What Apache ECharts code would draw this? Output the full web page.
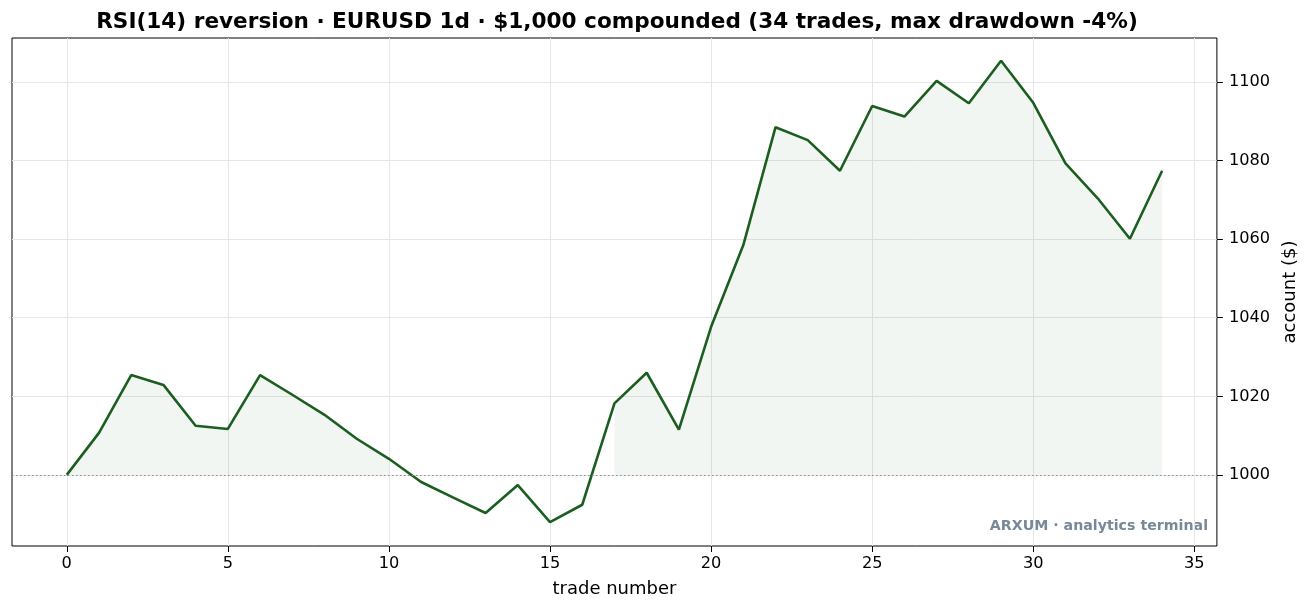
<!DOCTYPE html>
<html>
<head>
<meta charset="utf-8">
<script src="https://cdn.jsdelivr.net/npm/echarts@6/dist/echarts.min.js"></script>
<style>
  html, body { margin: 0; padding: 0; background: #fff; }
  #chart { width: 1307px; height: 612px; }
</style>
</head>
<body>
<div id="chart"></div>
<script>
// account value after each trade
const trades = [0,1,2,3,4,5,6,7,8,9,10,11,12,13,14,15,16,17,18,19,20,21,22,23,24,25,26,27,28,29,30,31,32,33,34];
const equity = [1000, 1010.7, 1025.4, 1022.9, 1012.5, 1011.7, 1025.4, 1020.4, 1015.3, 1009.2,
                1004.1, 998.2, 994.2, 990.3, 997.4, 988.0, 992.4, 1018.2, 1026.0, 1011.5,
                1037.7, 1058.5, 1088.5, 1085.2, 1077.4, 1093.9, 1091.2, 1100.3, 1094.6, 1105.4,
                1094.7, 1079.3, 1070.4, 1060.1, 1077.4];
const startCapital = 1000;
const xTicks = [0, 5, 10, 15, 20, 25, 30, 35];
const yTicks = [1000, 1020, 1040, 1060, 1080, 1100];

const FONT = 'DejaVu Sans';

// shade only the runs that sit at or above the starting capital
const fillData = trades.map(function (t, i) {
    const v = equity[i];
    return v >= startCapital ? [t, v] : [t, null];
});

const chart = echarts.init(document.getElementById('chart'), null, { renderer: 'canvas' });

const option = {
    animation: false,
    backgroundColor: '#fff',
    title: {
        text: 'RSI(14) reversion · EURUSD 1d · $1,000 compounded (34 trades, max drawdown -4%)',
        left: 612, top: 6, textAlign: 'center',
        textStyle: { fontFamily: FONT, fontSize: 21.6, fontWeight: 'bold', color: '#000' }
    },
    grid: {
        left: 12, right: 90, top: 38, bottom: 66,
        show: true, borderColor: '#000', borderWidth: 1, backgroundColor: 'transparent'
    },
    xAxis: {
        type: 'value',
        min: -1.7, max: 35.7, interval: 5,
        name: 'trade number', nameLocation: 'middle', nameGap: 34,
        nameTextStyle: { fontFamily: FONT, fontSize: 18, color: '#000' },
        axisLine: { show: false, onZero: false },
        axisTick: { show: true, length: 6, lineStyle: { color: '#000' }, customValues: xTicks },
        axisLabel: { fontFamily: FONT, fontSize: 16.2, color: '#000', margin: 10, customValues: xTicks },
        splitLine: { show: true, lineStyle: { color: '#e6e6e6', width: 1 } }
    },
    yAxis: {
        type: 'value',
        position: 'right',
        min: 981.9, max: 1111.2, interval: 20,
        name: 'account ($)', nameLocation: 'middle', nameGap: 57, nameRotate: 90,
        nameTextStyle: { fontFamily: FONT, fontSize: 18, color: '#000' },
        axisLine: { show: false, onZero: false },
        axisTick: { show: true, length: 6, lineStyle: { color: '#000' }, customValues: yTicks },
        axisLabel: {
            fontFamily: FONT, fontSize: 16.2, color: '#000', margin: 12, customValues: yTicks,
            formatter: function (v) { return String(v); }
        },
        splitLine: { show: true, lineStyle: { color: '#e6e6e6', width: 1 } }
    },
    series: [
        {
            type: 'line',
            data: fillData,
            symbol: 'none',
            connectNulls: false,
            lineStyle: { width: 0, opacity: 0 },
            areaStyle: { color: 'rgba(27, 94, 32, 0.085)', origin: startCapital },
            silent: true, z: 1
        },
        {
            type: 'line',
            data: trades.map(function (t, i) { return [t, equity[i]]; }),
            symbol: 'none',
            lineStyle: { color: '#1b5e20', width: 2.6 },
            z: 3,
            markLine: {
                silent: true, symbol: 'none', label: { show: false },
                lineStyle: { color: '#8a8a8a', type: [1.5, 2.5], width: 1 },
                data: [{ yAxis: startCapital }]
            }
        }
    ],
    graphic: [{
        type: 'text',
        right: 99, top: 519,
        style: {
            text: 'ARXUM · analytics terminal',
            font: 'bold 14.2px "DejaVu Sans"',
            fill: '#778899'
        }
    }]
};

chart.setOption(option);
</script>
</body>
</html>
